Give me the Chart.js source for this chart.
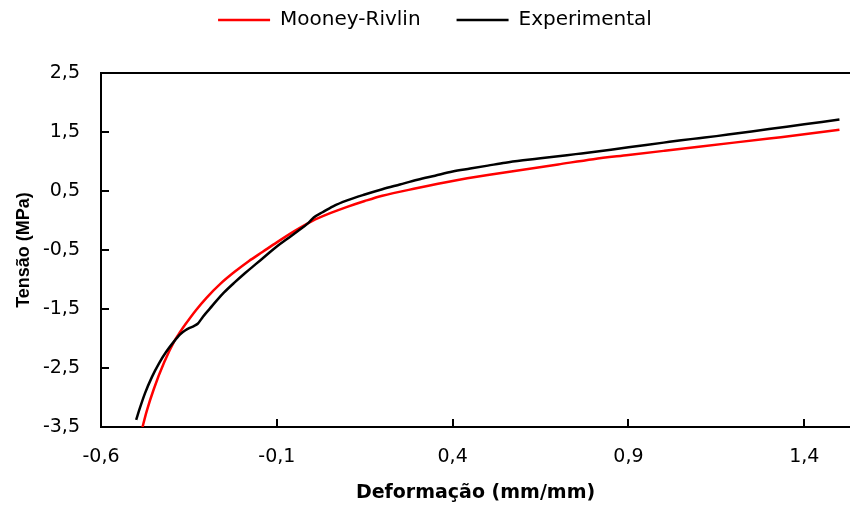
<!DOCTYPE html>
<html lang="pt">
<head>
  <meta charset="UTF-8" />
  <title>Tensão x Deformação</title>
  <script src="https://cdn.jsdelivr.net/npm/chart.js"></script>
  <style>
    html, body { margin: 0; padding: 0; background: #fff; }
    #wrap { width: 850px; height: 506px; position: relative; }
  </style>
</head>
<body>
  <div id="wrap"><canvas id="chart"></canvas></div>

  <script>
    // tick values
    const xTicks = [-0.6, -0.1, 0.4, 0.9, 1.4];
    const yTicks = [-3.5, -2.5, -1.5, -0.5, 0.5, 1.5, 2.5];

    // Mooney-Rivlin fit
    const mrX = [-0.484, -0.47, -0.45, -0.42, -0.39, -0.375, -0.36, -0.33, -0.30, -0.26, -0.22, -0.18, -0.14, -0.10, -0.05, 0.00, 0.05, 0.10, 0.15, 0.20, 0.30, 0.40, 0.50, 0.60, 0.70, 0.80, 0.90, 1.00, 1.10, 1.20, 1.30, 1.40, 1.50];
    const mrY = [-3.55, -3.23, -2.86, -2.40, -2.03, -1.89, -1.76, -1.52, -1.31, -1.07, -0.87, -0.69, -0.53, -0.37, -0.18, -0.01, 0.12, 0.23, 0.33, 0.42, 0.55, 0.67, 0.77, 0.86, 0.95, 1.04, 1.11, 1.18, 1.25, 1.32, 1.39, 1.46, 1.54];

    // experimental curve
    const expX = [-0.500, -0.490, -0.475, -0.455, -0.435, -0.415, -0.395, -0.375, -0.360, -0.348, -0.336, -0.325, -0.310, -0.290, -0.270, -0.250, -0.220, -0.190, -0.160, -0.130, -0.100, -0.070, -0.040, -0.010, 0.005, 0.030, 0.060, 0.100, 0.150, 0.200, 0.250, 0.300, 0.350, 0.400, 0.450, 0.500, 0.550, 0.600, 0.650, 0.700, 0.750, 0.800, 0.850, 0.900, 0.950, 1.000, 1.050, 1.100, 1.150, 1.200, 1.250, 1.300, 1.350, 1.400, 1.450, 1.500];
    const expY = [-3.38, -3.19, -2.93, -2.65, -2.42, -2.23, -2.07, -1.93, -1.86, -1.82, -1.79, -1.75, -1.63, -1.49, -1.35, -1.22, -1.05, -0.89, -0.74, -0.59, -0.44, -0.31, -0.18, -0.04, 0.05, 0.14, 0.24, 0.34, 0.44, 0.53, 0.61, 0.69, 0.76, 0.83, 0.88, 0.93, 0.98, 1.02, 1.055, 1.09, 1.125, 1.16, 1.20, 1.24, 1.28, 1.32, 1.36, 1.395, 1.43, 1.47, 1.51, 1.55, 1.59, 1.63, 1.67, 1.71];

    const toPts = (xs, ys) => xs.map((x, i) => ({ x: x, y: ys[i] }));
    const fmt = v => Number(v).toFixed(1).replace('.', ',');
    const FONT = "'DejaVu Sans', sans-serif";

    // inward tick marks + top frame line
    const innerTicks = {
      id: 'innerTicks',
      afterDraw(chart) {
        const { ctx, chartArea, scales } = chart;
        ctx.save();
        ctx.fillStyle = '#000';
        yTicks.forEach(v => {
          const py = Math.round(scales.y.getPixelForValue(v));
          ctx.fillRect(chartArea.left, py - 1, 8, 2);
        });
        xTicks.forEach(v => {
          const px = Math.round(scales.x.getPixelForValue(v));
          ctx.fillRect(px - 1, chartArea.bottom - 8, 2, 8);
        });
        ctx.fillRect(chartArea.left - 1, chartArea.top - 1, chartArea.right - chartArea.left + 1, 2);
        ctx.restore();
      }
    };

    // extra room under the legend
    const legendSpacer = {
      id: 'legendSpacer',
      beforeInit(chart) {
        const orig = chart.legend.fit;
        chart.legend.fit = function () {
          orig.bind(chart.legend)();
          this.height += 33;
        };
      }
    };

    new Chart(document.getElementById('chart'), {
      type: 'scatter',
      data: {
        datasets: [
          {
            label: 'Mooney-Rivlin',
            data: toPts(mrX, mrY),
            borderColor: '#ff0000',
            backgroundColor: '#ff0000',
            borderWidth: 2.5,
            showLine: true,
            pointRadius: 0,
            cubicInterpolationMode: 'monotone',
            order: 2
          },
          {
            label: 'Experimental',
            data: toPts(expX, expY),
            borderColor: '#000000',
            backgroundColor: '#000000',
            borderWidth: 2.5,
            showLine: true,
            pointRadius: 0,
            cubicInterpolationMode: 'monotone',
            order: 1
          }
        ]
      },
      options: {
        responsive: true,
        maintainAspectRatio: false,
        animation: false,
        layout: { padding: { top: -26, right: 0, left: 20, bottom: 0 } },
        plugins: {
          tooltip: { enabled: false },
          legend: {
            position: 'top',
            labels: {
              boxWidth: 52,
              boxHeight: 0,
              padding: 36,
              color: '#000',
              font: { family: FONT, size: 20 },
              sort: (a, b) => a.datasetIndex - b.datasetIndex
            }
          }
        },
        scales: {
          x: {
            type: 'linear',
            min: -0.6,
            max: 1.53,
            afterBuildTicks: s => { s.ticks = xTicks.map(v => ({ value: v })); },
            afterFit: s => { s.height = 79; },
            grid: { drawOnChartArea: false, drawTicks: false },
            border: { color: '#000', width: 2 },
            ticks: {
              color: '#000',
              padding: 19,
              maxRotation: 0,
              autoSkip: false,
              font: { family: FONT, size: 19 },
              callback: v => fmt(v)
            },
            title: {
              display: true,
              text: 'Deformação (mm/mm)',
              color: '#000',
              font: { family: FONT, size: 19, weight: 'bold' },
              padding: { top: 2, bottom: 2 }
            }
          },
          y: {
            type: 'linear',
            min: -3.5,
            max: 2.5,
            afterBuildTicks: s => { s.ticks = yTicks.map(v => ({ value: v })); },
            afterFit: s => { s.width = 81; },
            grid: { drawOnChartArea: false, drawTicks: false },
            border: { color: '#000', width: 2 },
            ticks: {
              color: '#000',
              padding: 21,
              font: { family: FONT, size: 19 },
              callback: v => fmt(v)
            },
            title: {
              display: true,
              text: 'Tensão (MPa)',
              color: '#000',
              font: { family: "'Liberation Sans', sans-serif", size: 18, weight: 'bold' },
              padding: { top: -7, bottom: 0 }
            }
          }
        }
      },
      plugins: [innerTicks, legendSpacer]
    });
  </script>
</body>
</html>
